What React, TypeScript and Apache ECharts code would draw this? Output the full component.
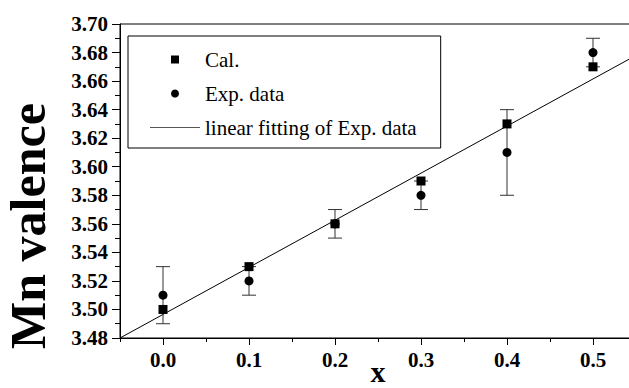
import React, { useEffect, useRef } from "react";
import * as echarts from "echarts";

const xValues = [0.0, 0.1, 0.2, 0.3, 0.4, 0.5];
const calValues = [3.5, 3.53, 3.56, 3.59, 3.63, 3.67];
const expValues = [3.51, 3.52, 3.56, 3.58, 3.61, 3.68];
const expErrLow = [3.49, 3.51, 3.55, 3.57, 3.58, 3.67];
const expErrHigh = [3.53, 3.53, 3.57, 3.59, 3.64, 3.69];
const fitLineX = [-0.05, 0.55];
const fitLineY = [3.48, 3.678];
const xTickLabels = [0.0, 0.1, 0.2, 0.3, 0.4, 0.5];
const xMinorTicks = [-0.05, 0.05, 0.15, 0.25, 0.35, 0.45, 0.55];

const FONT = "'Liberation Serif', serif";

export default function App() {
  const ref = useRef<HTMLDivElement>(null);
  useEffect(() => {
    if (!ref.current) return;
    const chart = echarts.init(ref.current, null, { renderer: "svg" });
    const axisText = {
      fontFamily: FONT,
      fontWeight: "bold",
      fontSize: 21,
      color: "#000",
    };
    const option: any = {
      animation: false,
      backgroundColor: "#fff",
      textStyle: { fontFamily: FONT },
      grid: {
        left: 120,
        top: 24,
        right: -7,
        bottom: 50,
        show: true,
        borderColor: "#000",
        borderWidth: 1,
        backgroundColor: "transparent",
        outerBoundsMode: "none",
        containLabel: false,
      },
      xAxis: [
        {
          type: "value",
          min: -0.05,
          max: 0.55,
          interval: 0.05,
          position: "bottom",
          name: "x",
          nameLocation: "middle",
          nameGap: 18,
          nameMoveOverlap: false,
          nameTextStyle: {
            fontFamily: FONT,
            fontWeight: "bold",
            fontSize: 30,
            color: "#000",
          },
          axisLine: { show: true, onZero: false, lineStyle: { color: "#000", width: 1 } },
          axisTick: { show: true, length: 7, lineStyle: { color: "#000" }, customValues: xTickLabels },
          axisLabel: {
            ...axisText,
            margin: 11,
            customValues: xTickLabels,
            formatter: (v: number) => v.toFixed(1),
          },
          splitLine: { show: false },
        },
        {
          type: "value",
          min: -0.05,
          max: 0.55,
          interval: 0.05,
          position: "bottom",
          axisLine: { show: false, onZero: false },
          axisTick: { show: true, length: 4, lineStyle: { color: "#000" }, customValues: xMinorTicks },
          axisLabel: { show: false },
          splitLine: { show: false },
        },
      ],
      yAxis: {
        type: "value",
        min: 3.48,
        max: 3.7,
        interval: 0.02,
        axisLine: { show: true, onZero: false, lineStyle: { color: "#000", width: 1 } },
        axisTick: { show: true, length: 8, lineStyle: { color: "#000" } },
        minorTick: { show: true, splitNumber: 2, length: 5, lineStyle: { color: "#000" } },
        axisLabel: { ...axisText, margin: 12, formatter: (v: number) => v.toFixed(2) },
        splitLine: { show: false },
        minorSplitLine: { show: false },
      },
      legend: {
        orient: "vertical",
        left: 128,
        top: 36,
        padding: [13, 24, 10, 22],
        borderColor: "#000",
        borderWidth: 1,
        itemWidth: 50,
        itemHeight: 8,
        itemGap: 13,
        textStyle: { fontFamily: FONT, fontSize: 21, color: "#000" },
        data: [
          { name: "Cal.", icon: "path://M0 0H10V10H0Z" },
          { name: "Exp. data", icon: "circle" },
          { name: "linear fitting of Exp. data", icon: "path://M0 0H50V1H0Z", itemStyle: { color: "#555" } },
        ],
      },
      graphic: [
        {
          type: "text",
          x: 28,
          y: 226,
          rotation: Math.PI / 2,
          style: {
            text: "Mn valence",
            fontFamily: FONT,
            fontWeight: "bold",
            fontSize: 50,
            fill: "#000",
            textAlign: "center",
            textVerticalAlign: "middle",
          },
        },
      ],
      series: [
        {
          name: "linear fitting of Exp. data",
          type: "line",
          data: fitLineX.map((x, i) => [x, fitLineY[i]]),
          symbol: "none",
          lineStyle: { color: "#000", width: 1 },
          itemStyle: { color: "#000" },
          z: 1,
        },
        {
          name: "error",
          type: "custom",
          data: xValues.map((x, i) => [x, expErrLow[i], expErrHigh[i]]),
          encode: { x: 0, y: [1, 2] },
          z: 2,
          renderItem: (params: any, api: any) => {
            const x = api.value(0);
            const lo = api.coord([x, api.value(1)]);
            const hi = api.coord([x, api.value(2)]);
            const w = 7;
            const style = { stroke: "#333", lineWidth: 1 };
            return {
              type: "group",
              children: [
                { type: "line", shape: { x1: lo[0], y1: lo[1], x2: hi[0], y2: hi[1] }, style },
                { type: "line", shape: { x1: lo[0] - w, y1: lo[1], x2: lo[0] + w, y2: lo[1] }, style },
                { type: "line", shape: { x1: hi[0] - w, y1: hi[1], x2: hi[0] + w, y2: hi[1] }, style },
              ],
            };
          },
        },
        {
          name: "Exp. data",
          type: "scatter",
          data: xValues.map((x, i) => [x, expValues[i]]),
          symbol: "circle",
          symbolSize: 9,
          itemStyle: { color: "#000", opacity: 1 },
          z: 3,
        },
        {
          name: "Cal.",
          type: "scatter",
          data: xValues.map((x, i) => [x, calValues[i]]),
          symbol: "rect",
          symbolSize: 9,
          itemStyle: { color: "#000", opacity: 1 },
          z: 4,
        },
      ],
    };
    chart.setOption(option);
    return () => chart.dispose();
  }, []);
  return (
    <div
      ref={ref}
      style={{ position: "fixed", left: 0, top: 0, width: 629, height: 388, background: "#fff" }}
    />
  );
}
